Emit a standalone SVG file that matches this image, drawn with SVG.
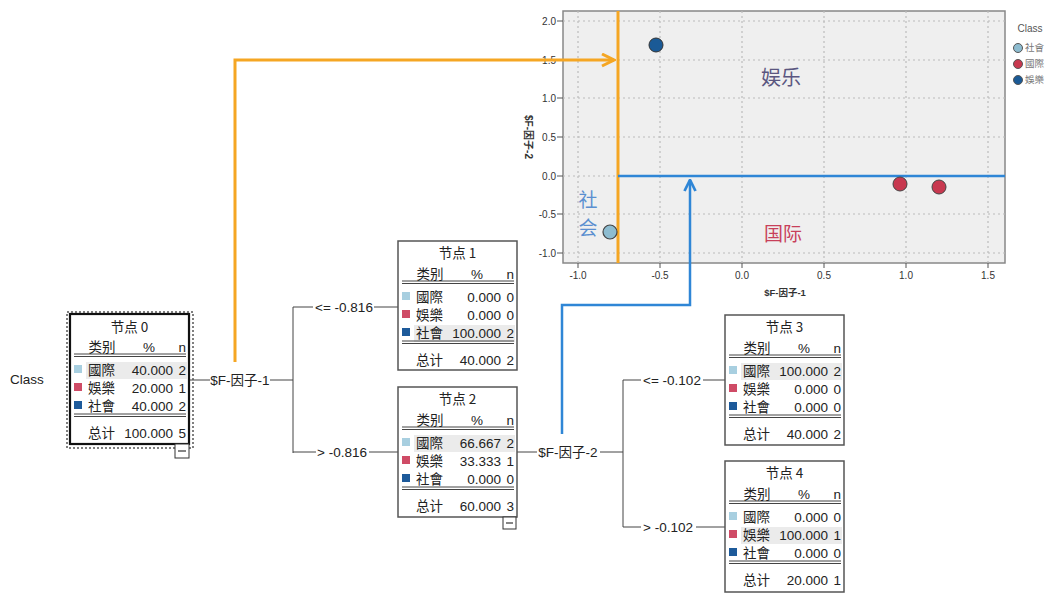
<svg xmlns="http://www.w3.org/2000/svg" width="1059" height="602" viewBox="0 0 1059 602">
<defs>
<style>
.t{font-family:"Liberation Sans","Noto Sans CJK SC",sans-serif;font-size:13.5px;fill:#222}
.c{font-family:"Noto Sans CJK TC","Noto Sans CJK SC",sans-serif;font-size:13.5px;fill:#222}
.box{fill:#fff;stroke:#555;stroke-width:1.5}
.ln{stroke:#444;stroke-width:1;fill:none}
.hl{fill:#ebebeb}
.ax{font-family:"Liberation Sans",sans-serif;font-size:10px;fill:#333}
.grid{stroke:#bbb;stroke-width:1.2;stroke-dasharray:2 3}
.lg{font-family:"Noto Sans CJK TC","Noto Sans CJK SC",sans-serif;font-size:9.5px;fill:#777}
</style>
<marker id="ao" viewBox="0 0 10 10" refX="9" refY="5" markerWidth="5" markerHeight="5" orient="auto"><path d="M1,1 L9,5 L1,9" fill="none" stroke="#f5a623" stroke-width="2"/></marker>
<marker id="ab" viewBox="0 0 10 10" refX="9" refY="5" markerWidth="5.5" markerHeight="5.5" orient="auto"><path d="M1,1 L9,5 L1,9" fill="none" stroke="#2f86d6" stroke-width="2"/></marker>
<g id="rows">
<line class="ln" x1="4" y1="40" x2="116" y2="40"/><line class="ln" x1="4" y1="42.5" x2="116" y2="42.5"/>
<text class="c" x="32" y="38" text-anchor="middle">类别</text>
<text class="t" x="79" y="38" text-anchor="middle">%</text>
<text class="t" x="116" y="38" text-anchor="end">n</text>
<rect x="4" y="51" width="8" height="8" fill="#a8cfe0"/>
<rect x="4" y="69" width="8" height="8" fill="#cf4b66"/>
<rect x="4" y="87" width="8" height="8" fill="#1d5a9a"/>
<text class="c" x="18" y="61">國際</text>
<text class="c" x="18" y="79">娛樂</text>
<text class="c" x="18" y="97">社會</text>
<line class="ln" x1="4" y1="100" x2="116" y2="100"/><line class="ln" x1="4" y1="102.5" x2="116" y2="102.5"/>
<text class="c" x="18" y="124">总计</text>
</g>
</defs>
<rect width="1059" height="602" fill="#fff"/>

<!-- scatter plot -->
<g id="plot">
<rect x="563" y="11" width="442" height="252" fill="#efefef" stroke="#888" stroke-width="1.5"/>
<g class="grid">
<line x1="578" y1="11" x2="578" y2="263"/><line x1="660" y1="11" x2="660" y2="263"/><line x1="742" y1="11" x2="742" y2="263"/><line x1="824" y1="11" x2="824" y2="263"/><line x1="906" y1="11" x2="906" y2="263"/><line x1="988" y1="11" x2="988" y2="263"/>
<line x1="563" y1="21" x2="1005" y2="21"/><line x1="563" y1="60" x2="1005" y2="60"/><line x1="563" y1="98" x2="1005" y2="98"/><line x1="563" y1="137" x2="1005" y2="137"/><line x1="563" y1="214" x2="1005" y2="214"/><line x1="563" y1="253" x2="1005" y2="253"/>
<line x1="563" y1="176" x2="1005" y2="176"/>
</g>
<g stroke="#555" stroke-width="1">
<line x1="557" y1="21" x2="563" y2="21"/><line x1="557" y1="60" x2="563" y2="60"/><line x1="557" y1="98" x2="563" y2="98"/><line x1="557" y1="137" x2="563" y2="137"/><line x1="557" y1="176" x2="563" y2="176"/><line x1="557" y1="214" x2="563" y2="214"/><line x1="557" y1="253" x2="563" y2="253"/>
<line x1="578" y1="263" x2="578" y2="268"/><line x1="660" y1="263" x2="660" y2="268"/><line x1="742" y1="263" x2="742" y2="268"/><line x1="824" y1="263" x2="824" y2="268"/><line x1="906" y1="263" x2="906" y2="268"/><line x1="988" y1="263" x2="988" y2="268"/>
</g>
<g class="ax" text-anchor="end">
<text x="556" y="25">2.0</text><text x="556" y="64">1.5</text><text x="556" y="102">1.0</text><text x="556" y="141">0.5</text><text x="556" y="180">0.0</text><text x="556" y="218">-0.5</text><text x="556" y="257">-1.0</text>
</g>
<g class="ax" text-anchor="middle">
<text x="578" y="279">-1.0</text><text x="660" y="279">-0.5</text><text x="742" y="279">0.0</text><text x="824" y="279">0.5</text><text x="906" y="279">1.0</text><text x="988" y="279">1.5</text>
</g>
<text x="785" y="296" text-anchor="middle" font-family="Liberation Sans,'Noto Sans CJK SC',sans-serif" font-size="9.5" font-weight="bold" fill="#333">$F-因子-1</text>
<text transform="translate(525,137) rotate(90)" text-anchor="middle" font-family="Liberation Sans,'Noto Sans CJK SC',sans-serif" font-size="10" font-weight="bold" fill="#333">$F-因子-2</text>
<line x1="618" y1="11" x2="618" y2="263" stroke="#f5a623" stroke-width="3"/>
<line x1="618" y1="176" x2="1005" y2="176" stroke="#2f86d6" stroke-width="2.5"/>
<circle cx="656" cy="45" r="7" fill="#1a5a96" stroke="#333" stroke-width="1"/>
<circle cx="610" cy="232" r="7" fill="#8dbcd0" stroke="#444" stroke-width="1.2"/>
<circle cx="900" cy="184" r="7" fill="#c8384f" stroke="#444" stroke-width="1"/>
<circle cx="939" cy="187" r="7" fill="#c8384f" stroke="#444" stroke-width="1"/>
<text x="781" y="85" text-anchor="middle" font-family="'Noto Sans CJK SC',sans-serif" font-size="20" fill="#5a5680">娱乐</text>
<text x="783" y="241" text-anchor="middle" font-family="'Noto Sans CJK SC',sans-serif" font-size="19" fill="#c8405a">国际</text>
<text x="588" y="207" text-anchor="middle" font-family="'Noto Sans CJK SC',sans-serif" font-size="19" fill="#5b8fd0">社</text>
<text x="588" y="235" text-anchor="middle" font-family="'Noto Sans CJK SC',sans-serif" font-size="19" fill="#5b8fd0">会</text>
</g>

<g id="legend">
<text x="1030" y="32" text-anchor="middle" font-family="Liberation Sans,sans-serif" font-size="10" fill="#555">Class</text>
<circle cx="1018" cy="48" r="4.5" fill="#8dbcd0" stroke="#555"/>
<circle cx="1018" cy="64" r="4.5" fill="#c8384f" stroke="#555"/>
<circle cx="1018" cy="80" r="4.5" fill="#1a5a96" stroke="#555"/>
<text class="lg" x="1025" y="51">社會</text>
<text class="lg" x="1025" y="67">國際</text>
<text class="lg" x="1025" y="83">娛樂</text>
</g>

<text x="10" y="384" font-family="Liberation Sans,sans-serif" font-size="13.5" fill="#222">Class</text>

<!-- connectors -->
<g id="connectors">
<g class="ln" stroke="#444">
<line x1="189" y1="380" x2="210" y2="380"/><line x1="270" y1="380" x2="293" y2="380"/>
<line x1="293" y1="307" x2="293" y2="453"/>
<line x1="293" y1="307" x2="313" y2="307"/><line x1="374" y1="307" x2="398" y2="307"/>
<line x1="293" y1="452" x2="316" y2="452"/><line x1="369" y1="452" x2="398" y2="452"/>
<line x1="517" y1="452" x2="537" y2="452"/><line x1="600" y1="452" x2="623" y2="452"/>
<line x1="623" y1="380" x2="623" y2="527"/>
<line x1="623" y1="380" x2="641" y2="380"/><line x1="703" y1="380" x2="725" y2="380"/>
<line x1="623" y1="527" x2="641" y2="527"/><line x1="696" y1="527" x2="725" y2="527"/>
</g>
<g font-family="Liberation Sans,'Noto Sans CJK SC',sans-serif" font-size="13.5" fill="#222">
<text x="240" y="385" text-anchor="middle">$F-因子-1</text>
<text x="344" y="312" text-anchor="middle">&lt;= -0.816</text>
<text x="342" y="457" text-anchor="middle">&gt; -0.816</text>
<text x="568" y="457" text-anchor="middle">$F-因子-2</text>
<text x="672" y="385" text-anchor="middle">&lt;= -0.102</text>
<text x="668" y="532" text-anchor="middle">&gt; -0.102</text>
</g>
<path d="M235,362 V60 H614" fill="none" stroke="#f5a623" stroke-width="3" marker-end="url(#ao)"/>
<path d="M562,434 V305 H690 V180" fill="none" stroke="#2f86d6" stroke-width="2.5" marker-end="url(#ab)"/>
</g>

<!-- nodes -->
<g id="node0">
<rect x="67" y="312" width="126" height="136" fill="none" stroke="#555" stroke-width="1.5" stroke-dasharray="2 2"/>
<g transform="translate(70,314)">
<rect x="0" y="0" width="119" height="130" fill="#fff" stroke="#111" stroke-width="2.2"/>
<rect class="hl" x="16" y="48" width="101" height="17"/>
<text class="c" x="59.5" y="18" text-anchor="middle">节点 0</text>
<use href="#rows"/>
<text class="t" x="103" y="61" text-anchor="end">40.000</text><text class="t" x="116" y="61" text-anchor="end">2</text>
<text class="t" x="103" y="79" text-anchor="end">20.000</text><text class="t" x="116" y="79" text-anchor="end">1</text>
<text class="t" x="103" y="97" text-anchor="end">40.000</text><text class="t" x="116" y="97" text-anchor="end">2</text>
<text class="t" x="103" y="124" text-anchor="end">100.000</text><text class="t" x="116" y="124" text-anchor="end">5</text>
</g>
<rect x="175" y="444" width="14" height="14" fill="#fff" stroke="#333" stroke-width="1"/>
<line x1="178" y1="451" x2="186" y2="451" stroke="#333" stroke-width="1.2"/>
</g>

<g id="node1" transform="translate(398,241)">
<rect class="box" x="0" y="0" width="119" height="129"/>
<rect class="hl" x="16" y="84" width="101" height="17"/>
<text class="c" x="59.5" y="17" text-anchor="middle">节点 1</text>
<use href="#rows"/>
<text class="t" x="103" y="61" text-anchor="end">0.000</text><text class="t" x="116" y="61" text-anchor="end">0</text>
<text class="t" x="103" y="79" text-anchor="end">0.000</text><text class="t" x="116" y="79" text-anchor="end">0</text>
<text class="t" x="103" y="97" text-anchor="end">100.000</text><text class="t" x="116" y="97" text-anchor="end">2</text>
<text class="t" x="103" y="124" text-anchor="end">40.000</text><text class="t" x="116" y="124" text-anchor="end">2</text>
</g>

<g id="node2">
<g transform="translate(398,387)">
<rect class="box" x="0" y="0" width="119" height="130"/>
<rect class="hl" x="16" y="48" width="101" height="17"/>
<text class="c" x="59.5" y="17" text-anchor="middle">节点 2</text>
<use href="#rows"/>
<text class="t" x="103" y="61" text-anchor="end">66.667</text><text class="t" x="116" y="61" text-anchor="end">2</text>
<text class="t" x="103" y="79" text-anchor="end">33.333</text><text class="t" x="116" y="79" text-anchor="end">1</text>
<text class="t" x="103" y="97" text-anchor="end">0.000</text><text class="t" x="116" y="97" text-anchor="end">0</text>
<text class="t" x="103" y="124" text-anchor="end">60.000</text><text class="t" x="116" y="124" text-anchor="end">3</text>
</g>
<rect x="503" y="517" width="13" height="12" fill="#fff" stroke="#333" stroke-width="1"/>
<line x1="506" y1="523" x2="513" y2="523" stroke="#333" stroke-width="1.2"/>
</g>

<g id="node3" transform="translate(725,315)">
<rect class="box" x="0" y="0" width="119" height="130"/>
<rect class="hl" x="16" y="48" width="101" height="17"/>
<text class="c" x="59.5" y="17" text-anchor="middle">节点 3</text>
<use href="#rows"/>
<text class="t" x="103" y="61" text-anchor="end">100.000</text><text class="t" x="116" y="61" text-anchor="end">2</text>
<text class="t" x="103" y="79" text-anchor="end">0.000</text><text class="t" x="116" y="79" text-anchor="end">0</text>
<text class="t" x="103" y="97" text-anchor="end">0.000</text><text class="t" x="116" y="97" text-anchor="end">0</text>
<text class="t" x="103" y="124" text-anchor="end">40.000</text><text class="t" x="116" y="124" text-anchor="end">2</text>
</g>

<g id="node4" transform="translate(725,461)">
<rect class="box" x="0" y="0" width="119" height="131"/>
<rect class="hl" x="16" y="66" width="101" height="17"/>
<text class="c" x="59.5" y="17" text-anchor="middle">节点 4</text>
<use href="#rows"/>
<text class="t" x="103" y="61" text-anchor="end">0.000</text><text class="t" x="116" y="61" text-anchor="end">0</text>
<text class="t" x="103" y="79" text-anchor="end">100.000</text><text class="t" x="116" y="79" text-anchor="end">1</text>
<text class="t" x="103" y="97" text-anchor="end">0.000</text><text class="t" x="116" y="97" text-anchor="end">0</text>
<text class="t" x="103" y="124" text-anchor="end">20.000</text><text class="t" x="116" y="124" text-anchor="end">1</text>
</g>
</svg>
